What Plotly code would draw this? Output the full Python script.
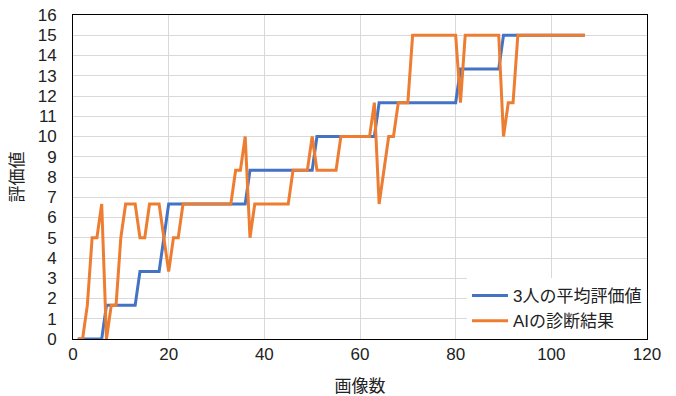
import plotly.graph_objects as go

images = list(range(1, 108))

avg_vals = ([0] * 6 + [1.67] * 7 + [3.33] * 5 + [5] + [6.67] * 17 + [8.33] * 14 +
            [10] * 13 + [11.67] * 17 + [13.33] * 9 + [15] * 18)

ai_vals = ([0, 0, 1.67, 5, 5, 6.67, 0, 1.67, 1.67, 5, 6.67, 6.67, 6.67, 5, 5,
            6.67, 6.67, 6.67, 5, 3.33, 5, 5] + [6.67] * 11 + [8.33, 8.33, 10, 5] +
           [6.67] * 8 + [8.33] * 4 + [10] + [8.33] * 5 + [10] * 7 +
           [11.67, 6.67, 8.33, 10, 10, 11.67, 11.67, 11.67] + [15] * 10 +
           [11.67] + [15] * 8 + [10, 11.67, 11.67] + [15] * 15)

name_avg = "3人の平均評価値"
name_ai = "AIの診断結果"

FONT = "Arial, 'Liberation Sans', 'Noto Sans CJK JP', sans-serif"

fig = go.Figure()
fig.add_trace(go.Scatter(x=images, y=avg_vals, mode="lines", name=name_avg,
                         line=dict(color="#4472C4", width=3)))
fig.add_trace(go.Scatter(x=images, y=ai_vals, mode="lines", name=name_ai,
                         line=dict(color="#ED7D31", width=3)))

fig.update_layout(
    width=676, height=396,
    margin=dict(l=73, r=29, t=15, b=57, autoexpand=False),
    paper_bgcolor="white", plot_bgcolor="white",
    font=dict(family=FONT, size=17, color="#222222"),
    showlegend=True,
    legend=dict(x=1, y=0, xanchor="right", yanchor="bottom",
                bgcolor="white", borderwidth=0,
                font=dict(family=FONT, size=17, color="#222222"),
                tracegroupgap=0, itemwidth=36),
    xaxis=dict(range=[0, 120], dtick=20, tick0=0, automargin=False,
               showgrid=True, gridcolor="#d9d9d9", gridwidth=1,
               zeroline=False, showline=True, linecolor="black", linewidth=1,
               mirror=True, ticks="",
               tickfont=dict(family=FONT, size=17, color="#222222"),
               title=dict(text="画像数", standoff=22,
                          font=dict(family=FONT, size=17))),
    yaxis=dict(range=[0, 16], dtick=1, tick0=0, automargin=False,
               showgrid=True, gridcolor="#d9d9d9", gridwidth=1,
               zeroline=False, showline=True, linecolor="black", linewidth=1,
               mirror=True, ticks="", ticklabelstandoff=12,
               tickfont=dict(family=FONT, size=17, color="#222222"),
               title=dict(text="評価値", standoff=9,
                          font=dict(family=FONT, size=17))),
)

fig.write_html("out.html", config={"displayModeBar": False},
               post_script="document.body.style.margin='0';")
